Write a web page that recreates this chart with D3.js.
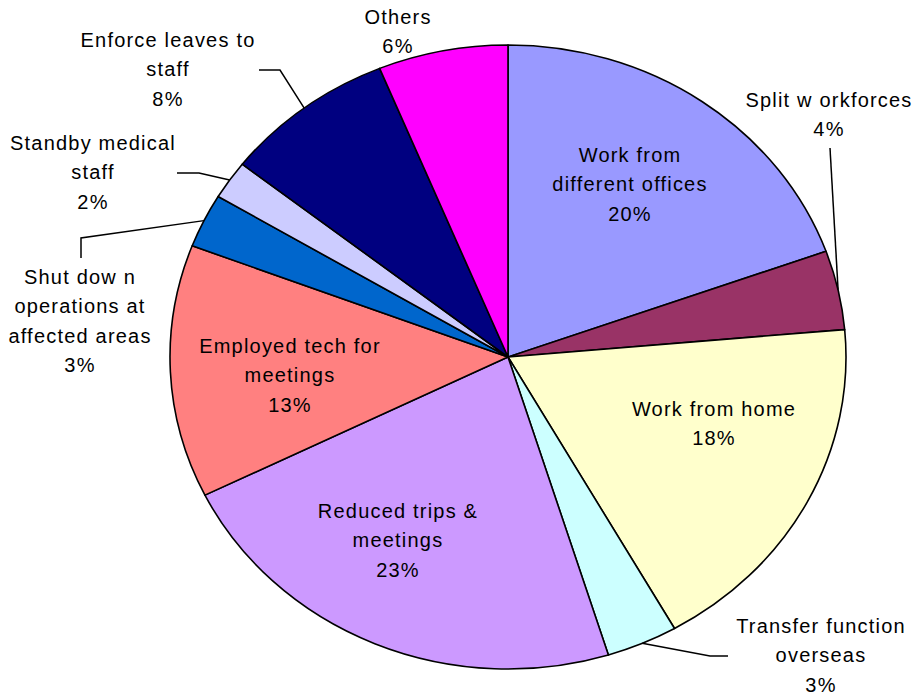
<!DOCTYPE html>
<html>
<head>
<meta charset="utf-8">
<script src="https://cdn.jsdelivr.net/npm/d3@7"></script>
<style>
  body { margin: 0; background: #fff; }
  text { font-family: "Liberation Sans", Arial, sans-serif; font-size: 20px; letter-spacing: 1.2px; fill: #000; }
</style>
</head>
<body>
<svg id="chart" width="912" height="695"></svg>
<script>
// slices, clockwise from 12 o'clock
const categories = [
    "Work from different offices", "Split w orkforces", "Work from home",
    "Transfer function overseas", "Reduced trips & meetings", "Employed tech for meetings",
    "Shut dow n operations at affected areas", "Standby medical staff",
    "Enforce leaves to staff", "Others"
];
const values = [19.5, 4.1, 18.2, 3.4, 22.5, 13.1, 2.8, 2.0, 8.2, 6.2];
const colors = ["#9999ff", "#993366", "#ffffcc", "#ccffff", "#cc99ff",
                "#ff8080", "#0066cc", "#ccccff", "#000080", "#ff00ff"];

// label lines as they wrap in the picture
const labelLines = [
    ["Work from", "different offices"],
    ["Split w orkforces"],
    ["Work from home"],
    ["Transfer function", "overseas"],
    ["Reduced trips &", "meetings"],
    ["Employed tech for", "meetings"],
    ["Shut dow n", "operations at", "affected areas"],
    ["Standby medical", "staff"],
    ["Enforce leaves to", "staff"],
    ["Others"]
];

// layout: label anchor (center x, first line y) and optional leader elbow/end
const layout = [
    { x: 630, y: 155 },
    { x: 829, y: 100, leader: [[830, 148]] },
    { x: 714, y: 409 },
    { x: 821, y: 626, leader: [[710, 656], [728, 656]] },
    { x: 398, y: 511 },
    { x: 290, y: 346 },
    { x: 80, y: 277, leader: [[81, 238], [81, 258]] },
    { x: 93, y: 143, leader: [[199, 173], [177, 173]] },
    { x: 168, y: 40, leader: [[280, 70], [259, 70]] },
    { x: 398, y: 17 }
];

const cx = 508, cy = 357, rx = 338, ry = 312, lineH = 29.3;

const svg = d3.select("#chart");
const total = d3.sum(values);
const fmt = d3.format(".0%");

const pie = d3.pie().sort(null).value(d => d)(values);
const arc = d3.arc().innerRadius(0).outerRadius(rx);

// pie is drawn as a circle and squashed vertically
const g = svg.append("g")
    .attr("transform", `translate(${cx},${cy}) scale(1,${ry / rx})`);

g.selectAll("path")
    .data(pie)
    .enter()
    .append("path")
    .attr("d", arc)
    .attr("fill", (d, i) => colors[i])
    .attr("stroke", "#000")
    .attr("stroke-width", 1.6)
    .attr("vector-effect", "non-scaling-stroke")
    .attr("stroke-linejoin", "round");

// leader lines start on the rim at the slice middle
const edgePoint = d => {
    const a = (d.startAngle + d.endAngle) / 2;
    return [cx + rx * Math.sin(a), cy - ry * Math.cos(a)];
};

pie.forEach((d, i) => {
    const L = layout[i];
    if (!L.leader) return;
    const pts = [edgePoint(d)].concat(L.leader);
    svg.append("path")
        .attr("d", d3.line()(pts))
        .attr("fill", "none")
        .attr("stroke", "#000")
        .attr("stroke-width", 1.5);
});

// labels
pie.forEach((d, i) => {
    const L = layout[i];
    const lines = labelLines[i].concat([fmt(values[i] / total)]);
    const t = svg.append("text")
        .attr("text-anchor", "middle");
    lines.forEach((s, k) => {
        t.append("tspan")
            .attr("x", L.x)
            .attr("y", L.y + k * lineH)
            .attr("dy", "0.35em")
            .text(s);
    });
});
</script>
</body>
</html>
